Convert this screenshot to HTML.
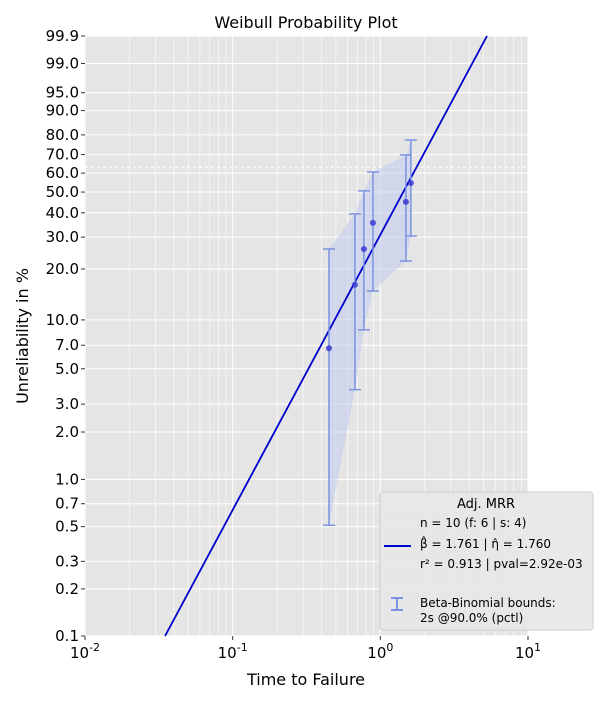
<!DOCTYPE html>
<html><head><meta charset="utf-8"><style>
body{margin:0;background:#fff;font-family:"Liberation Sans","DejaVu Sans",sans-serif;}
svg text{font-family:"DejaVu Sans","Liberation Sans",sans-serif;}
</style></head><body>
<svg id="chart" width="600" height="700" xmlns="http://www.w3.org/2000/svg">
<rect x="85" y="36" width="443" height="600" fill="#e5e5e5"/>
<g id="grid"></g><g id="marks"></g><g id="axes"></g>
<text x="306" y="28" font-size="16" text-anchor="middle">Weibull Probability Plot</text>
<text x="306" y="685" font-size="16" text-anchor="middle">Time to Failure</text>
<text transform="translate(28,336) rotate(-90)" font-size="16" text-anchor="middle">Unreliability in %</text>
<g>
<rect x="380" y="492" width="213" height="138" rx="3" fill="#e8e8e8" stroke="#cccccc" opacity="0.95"/>
<text x="486" y="508" font-size="13" text-anchor="middle">Adj. MRR</text>
<text x="420" y="527" font-size="12">n = 10 (f: 6 | s: 4)</text>
<line x1="384" y1="546" x2="411" y2="546" stroke="#0000cc" stroke-width="2"/>
<text x="420" y="548" font-size="12">β̂ = 1.761 | η̂ = 1.760</text>
<text x="420" y="568" font-size="12">r² = 0.913 | pval=2.92e-03</text>
<g stroke="#7b93e0" stroke-width="2"><line x1="397" y1="598" x2="397" y2="610"/><line x1="391" y1="598" x2="403" y2="598"/><line x1="391" y1="610" x2="403" y2="610"/></g>
<text x="420" y="607" font-size="12">Beta-Binomial bounds:</text>
<text x="420" y="622" font-size="12">2s @90.0% (pctl)</text>
</g>
</svg>
<script>
const yTicks=[99.9,99.0,95.0,90.0,80.0,70.0,60.0,50.0,40.0,30.0,20.0,10.0,7.0,5.0,3.0,2.0,1.0,0.7,0.5,0.3,0.2,0.1];
const xTickExps=[-2,-1,0,1];
const times=[0.449,0.673,0.774,0.891,1.49,1.61];
const unrel=[6.7,16.2,25.9,35.6,45.1,54.7];
const upperB=[25.9,39.5,50.6,60.6,69.8,77.5];
const lowerB=[0.51,3.7,8.7,14.9,22.2,30.4];
const beta=1.761, eta=1.760;
const NS="http://www.w3.org/2000/svg";
const X0=85,X1=528,Y0=36,Y1=636;
const lmin=-2,lmax=1;
const wy=p=>Math.log(-Math.log(1-p/100));
const ymin=wy(0.1),ymax=wy(99.9);
const sx=t=>X0+(Math.log10(t)-lmin)/(lmax-lmin)*(X1-X0);
const sy=p=>Y1-(wy(p)-ymin)/(ymax-ymin)*(Y1-Y0);
function mk(tag,attrs,parent){const e=document.createElementNS(NS,tag);for(const k in attrs)e.setAttribute(k,attrs[k]);document.getElementById(parent).appendChild(e);return e;}
// grid
for(let d=-2;d<1;d++)for(let m=2;m<=9;m++){const x=sx(m*Math.pow(10,d));const l=mk('line',{x1:x,x2:x,y1:Y0,y2:Y1,stroke:'#fff','stroke-width':0.6},'grid');

}
xTickExps.forEach(e=>{const x=sx(Math.pow(10,e));const l=mk('line',{x1:x,x2:x,y1:Y0,y2:Y1,stroke:'#fff','stroke-width':1},'grid');


const t=mk('line',{x1:x,x2:x,y1:Y1,y2:Y1+4,stroke:'#333'},'axes');
const tx=mk('text',{x:x,y:Y1+22,'font-size':15,'text-anchor':'middle'},'axes');


tx.innerHTML='10<tspan dy="-7" font-size="11">'+e+'</tspan>';});
yTicks.forEach(p=>{const y=sy(p);const l=mk('line',{x1:X0,x2:X1,y1:y,y2:y,stroke:'#fff','stroke-width':1},'grid');


mk('line',{x1:X0-4,x2:X0,y1:y,y2:y,stroke:'#333'},'axes');
const tx=mk('text',{x:X0-6,y:y+5,'font-size':15,'text-anchor':'end'},'axes');


tx.textContent=p.toFixed(1);});
const dl=mk('line',{x1:X0,x2:X1,y1:sy(63.2),y2:sy(63.2),stroke:'#fff','stroke-dasharray':'3,3','stroke-width':1},'grid');


// band
let pts=times.map((t,i)=>sx(t)+','+sy(upperB[i])).concat(times.slice().reverse().map((t,j)=>{const i=times.length-1-j;return sx(t)+','+sy(lowerB[i]);}));
const band=mk('polygon',{points:pts.join(' '),fill:'#b8c4f0',opacity:0.45},'marks');


// fit line
const tA=eta*Math.exp(Math.log(-Math.log(1-0.001))/beta), tB=eta*Math.exp(Math.log(-Math.log(0.001))/beta);
const Fp=t=>100*(1-Math.exp(-Math.pow(t/eta,beta)));
const fl=mk('line',{x1:sx(tA),y1:sy(0.1),x2:sx(tB),y2:sy(99.9),stroke:'#0000cc','stroke-width':1.8},'marks');


// error bars and points
times.forEach((t,i)=>{const x=sx(t),yu=sy(upperB[i]),yl=sy(lowerB[i]);
const g=mk('g',{stroke:'#7b93e0','stroke-width':1.5},'marks');


[[x,yu,x,yl],[x-6,yu,x+6,yu],[x-6,yl,x+6,yl]].forEach(a=>{const l=document.createElementNS(NS,'line');l.setAttribute('x1',a[0]);l.setAttribute('y1',a[1]);l.setAttribute('x2',a[2]);l.setAttribute('y2',a[3]);g.appendChild(l);});
const c=mk('circle',{cx:x,cy:sy(unrel[i]),r:3,fill:'#3a3ad0',opacity:0.85},'marks');

});
</script>
</body></html>
